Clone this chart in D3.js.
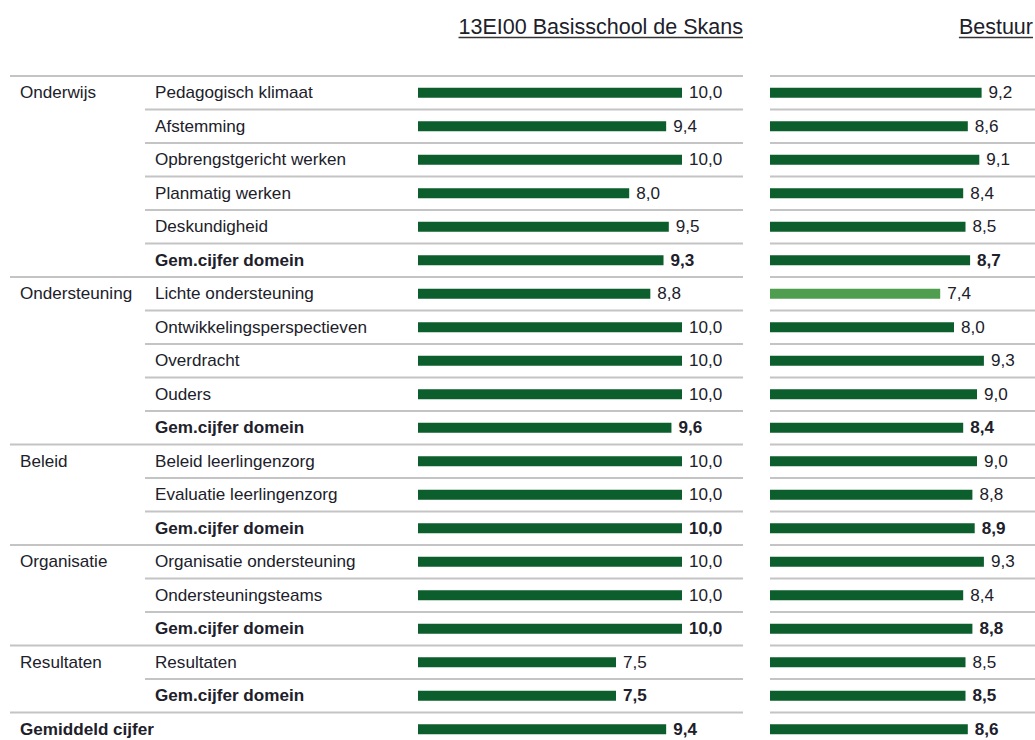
<!DOCTYPE html>
<html>
<head>
<meta charset="utf-8">
<script src="https://cdn.jsdelivr.net/npm/d3@7"></script>
<style>
  html, body { margin: 0; padding: 0; background: #fff; }
  svg { display: block; font-family: "Liberation Sans", Arial, sans-serif; }
</style>
</head>
<body>
<svg id="chart" width="1035" height="740"></svg>
<script>
// ---- data ----
const groups = ["Onderwijs", "Ondersteuning", "Beleid", "Organisatie", "Resultaten", "Gemiddeld cijfer"];
const groupSizes = [6, 5, 3, 3, 2, 1];
const items = [
  "Pedagogisch klimaat", "Afstemming", "Opbrengstgericht werken", "Planmatig werken", "Deskundigheid", "Gem.cijfer domein",
  "Lichte ondersteuning", "Ontwikkelingsperspectieven", "Overdracht", "Ouders", "Gem.cijfer domein",
  "Beleid leerlingenzorg", "Evaluatie leerlingenzorg", "Gem.cijfer domein",
  "Organisatie ondersteuning", "Ondersteuningsteams", "Gem.cijfer domein",
  "Resultaten", "Gem.cijfer domein",
  ""
];
const schoolValues = [10.0, 9.4, 10.0, 8.0, 9.5, 9.3, 8.8, 10.0, 10.0, 10.0, 9.6, 10.0, 10.0, 10.0, 10.0, 10.0, 10.0, 7.5, 7.5, 9.4];
const bestuurValues = [9.2, 8.6, 9.1, 8.4, 8.5, 8.7, 7.4, 8.0, 9.3, 9.0, 8.4, 9.0, 8.8, 8.9, 9.3, 8.4, 8.8, 8.5, 8.5, 8.6];
const panelTitles = ["13EI00 Basisschool de Skans", "Bestuur"];
const domain = [0, 10];

// ---- build rows ----
const rows = [];
let idx = 0;
groups.forEach((g, gi) => {
  for (let k = 0; k < groupSizes[gi]; k++) {
    const isSummary = items[idx] === "Gem.cijfer domein" || items[idx] === "";
    rows.push({
      i: idx,
      group: k === 0 ? g : "",
      groupStart: k === 0,
      item: items[idx],
      bold: isSummary,
      school: schoolValues[idx],
      bestuur: bestuurValues[idx]
    });
    idx++;
  }
});

const svg = d3.select("#chart");
const top0 = 76, rowH = 33.5;
const y = d3.scaleBand().domain(rows.map(r => r.i)).range([top0, top0 + rowH * rows.length]).paddingInner(0).paddingOuter(0);

const xSchool = d3.scaleLinear().domain(domain).range([418, 682]);
const xBestuur = d3.scaleLinear().domain(domain).range([770, 1000]);

const textColor = "#20202a";
const lineColor = "#c4c4c4";
const barDark = "#0c5f2c";
const barLight = "#4f9e4f";
const barH = 10;
const fs = 16;
const sx = 1.07;

// titles
const titles = [
  { t: panelTitles[0], x: 743 },
  { t: panelTitles[1], x: 1033 }
];
titles.forEach(tt => {
  const txt = svg.append("text")
    .attr("x", tt.x).attr("y", 33.5)
    .attr("text-anchor", "end")
    .attr("font-size", 21.5)
    .attr("fill", textColor)
    .text(tt.t);
  const bb = txt.node().getBBox();
  svg.append("line")
    .attr("x1", bb.x).attr("x2", bb.x + bb.width)
    .attr("y1", 37.5).attr("y2", 37.5)
    .attr("stroke", "#333").attr("stroke-width", 1.4);
});

// row separator lines
const g = svg.append("g");
rows.forEach(r => {
  const yy = y(r.i);
  g.append("line")
    .attr("x1", r.groupStart ? 10 : 145).attr("x2", 743)
    .attr("y1", yy).attr("y2", yy)
    .attr("stroke", lineColor).attr("stroke-width", 2);
  g.append("line")
    .attr("x1", 770).attr("x2", 1035)
    .attr("y1", yy).attr("y2", yy)
    .attr("stroke", lineColor).attr("stroke-width", 2);
});

function label(x, yy, txt, bold) {
  svg.append("text")
    .attr("transform", `translate(${x},${yy}) scale(${sx},1)`)
    .attr("font-size", fs)
    .attr("font-weight", bold ? "bold" : "normal")
    .attr("fill", textColor)
    .text(txt);
}

// labels
rows.forEach(r => {
  const base = y(r.i) + y.bandwidth() / 2 + 5.5;
  if (r.group) label(20, base, r.group, r.group === "Gemiddeld cijfer");
  if (r.item) label(155, base, r.item, r.bold);
});

// bars
function drawPanel(x, key) {
  const pg = svg.append("g");
  pg.selectAll("rect").data(rows).join("rect")
    .attr("x", x(0))
    .attr("y", d => y(d.i) + y.bandwidth() / 2 - barH / 2)
    .attr("width", d => x(d[key]) - x(0))
    .attr("height", barH)
    .attr("fill", d => d[key] < 7.5 ? barLight : barDark);
  pg.selectAll("text").data(rows).join("text")
    .attr("transform", d => `translate(${x(d[key]) + 7},${y(d.i) + y.bandwidth() / 2 + 5.5}) scale(${sx},1)`)
    .attr("font-size", fs)
    .attr("font-weight", d => d.bold ? "bold" : "normal")
    .attr("fill", textColor)
    .text(d => d3.format(".1f")(d[key]).replace(".", ","));
}
drawPanel(xSchool, "school");
drawPanel(xBestuur, "bestuur");
</script>
</body>
</html>
